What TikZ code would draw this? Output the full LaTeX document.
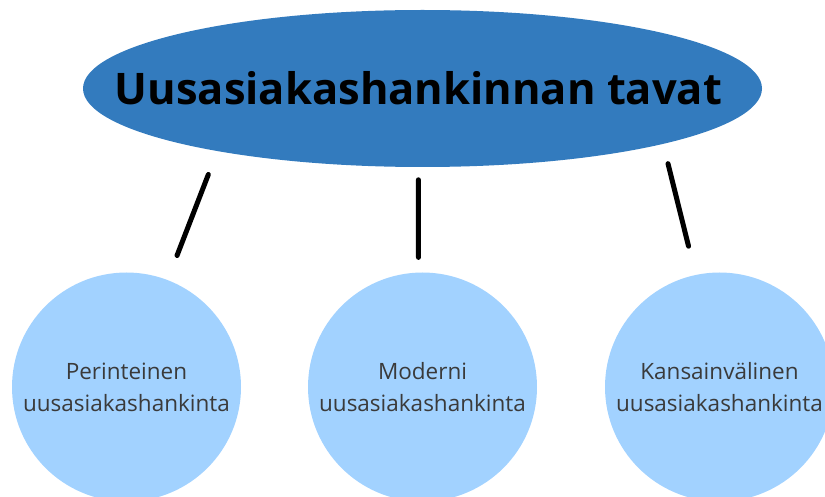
\documentclass[tikz,border=0pt]{standalone}
\usepackage{fontspec}
\setmainfont{Open Sans}
\usepackage{tikz}
\usetikzlibrary{shapes.geometric}
\usepackage{xcolor}
\definecolor{topicblue}{HTML}{337BBE}
\definecolor{wayblue}{HTML}{A2D2FF}
\definecolor{waytext}{HTML}{3A3A3A}

\begin{document}
\begin{tikzpicture}[
  x=1pt, y=-1pt,
  topic/.style={ellipse, fill=topicblue, draw=none, minimum width=679pt, minimum height=157pt, inner sep=0pt, font=\fontsize{43.5}{50}\selectfont\bfseries},
  way/.style={circle, fill=wayblue, draw=none, minimum size=229pt, inner sep=0pt, align=center, text=waytext, font=\fontsize{22.5}{32}\selectfont},
  link/.style={line width=5pt, line cap=round},
]
  \useasboundingbox (0,0) rectangle (825,497);

  % Title ellipse
  \node[topic] (top) at (422.5,88.5) {\makebox[0pt]{Uusasiakashankinnan tavat\kern8pt}};

  % Circles
  \node[way] (c1) at (126.5,387) {Perinteinen\\uusasiakashankinta};
  \node[way] (c2) at (422.5,387) {Moderni\\uusasiakashankinta};
  \node[way] (c3) at (719.5,387) {Kansainvälinen\\uusasiakashankinta};

  % Links
  \draw[link, shorten <=24.9pt, shorten >=26.2pt] (top.197.1) -- (c1.69.1);
  \draw[link, shorten <=12.6pt, shorten >=15pt] (top.-93) -- (c2.92);
  \draw[link, shorten <=20.2pt, shorten >=29.5pt] (top.-13.5) -- (c3.102.1);
\end{tikzpicture}
\end{document}
